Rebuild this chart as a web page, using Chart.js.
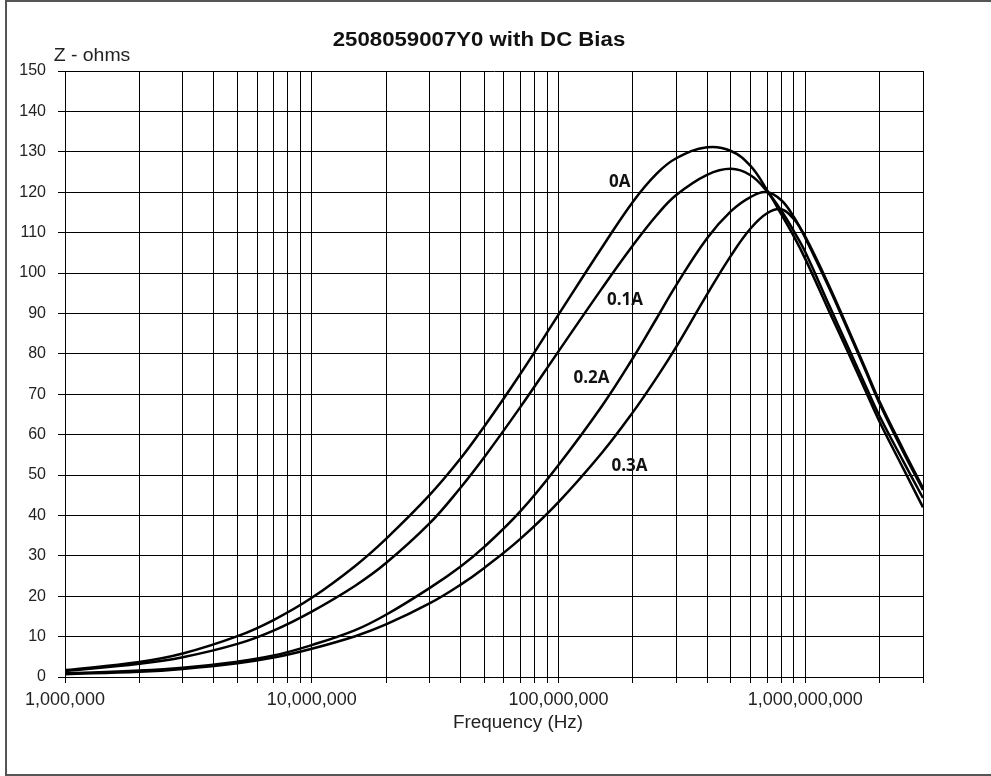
<!DOCTYPE html>
<html>
<head>
<meta charset="utf-8">
<script src="https://cdn.jsdelivr.net/npm/chart.js@4.4.0/dist/chart.umd.min.js"></script>
<style>
html, body { margin: 0; padding: 0; background: #fff; }
#frame { position: absolute; left: 5px; top: 0; width: 1100px; height: 776px; border: 2px solid #555; box-sizing: border-box; }
#c { position: absolute; left: 0; top: 0; }
</style>
</head>
<body>
<div id="frame"></div>
<canvas id="c" width="991" height="776"></canvas>
<script>
// frequency points (Hz) and impedance (ohms)
const freq = [1e6, 2e6, 3e6, 5e6, 7e6, 1e7, 1.5e7, 2e7, 3e7, 4e7, 5e7, 7e7, 1e8, 1.5e8, 2e8, 2.5e8, 3e8, 4e8, 5e8, 6e8, 7e8, 8e8, 9e8, 1e9, 1.25e9, 1.5e9, 1.75e9, 2e9, 2.5e9, 3e9];

const z0A  = [1.7, 3.7, 5.8, 10.1, 14.1, 19.6, 27.5, 34.2, 45, 54, 62, 75, 89.7, 106.3, 117.6, 124.6, 128.4, 131.1, 130.2, 126.5, 120.5, 114.5, 109, 103.5, 90.5, 80, 71, 63.2, 51.5, 42];
const z01A = [1.5, 3.3, 4.9, 8.2, 11.5, 16.2, 22.6, 28.2, 38, 46.8, 54.4, 66.8, 80.6, 96.2, 106.8, 114.3, 119.3, 124.3, 125.8, 124.2, 120.2, 115.4, 110.3, 105.2, 92, 81.3, 72.3, 64.6, 53.3, 44.3];
const z02A = [0.9, 1.6, 2.3, 3.8, 5.3, 7.9, 11.6, 15.4, 22, 27.3, 32.2, 41, 52.5, 67.1, 78.9, 88.8, 97, 108.6, 115.3, 118.8, 120, 118, 113.8, 108.7, 96.3, 85.4, 76, 67.7, 55.6, 46.3];
const z03A = [0.7, 1.3, 2.0, 3.4, 4.8, 7.0, 10.1, 13.0, 18.2, 22.8, 27, 34.2, 43.3, 55.5, 65.5, 74.1, 81.7, 94.7, 104.3, 111, 114.8, 115.8, 113.3, 109, 96.8, 85.8, 76.4, 68.2, 56.2, 46.8];

const seriesNames = ['0A', '0.1A', '0.2A', '0.3A'];
// where each curve name sits (frequency, ohms)
const labelFreq = [1.77e8, 1.86e8, 1.36e8, 1.94e8];
const labelZ    = [122.5, 93.3, 74, 52.1];

const xTickValues = [
  1e6, 2e6, 3e6, 4e6, 5e6, 6e6, 7e6, 8e6, 9e6,
  1e7, 2e7, 3e7, 4e7, 5e7, 6e7, 7e7, 8e7, 9e7,
  1e8, 2e8, 3e8, 4e8, 5e8, 6e8, 7e8, 8e8, 9e8,
  1e9, 2e9, 3e9
];
const xLabelValues = [1e6, 1e7, 1e8, 1e9];

const chartTitle = '2508059007Y0 with DC Bias';
const yTitle = 'Z - ohms';
const xTitle = 'Frequency (Hz)';

const allZ = [z0A, z01A, z02A, z03A];

function stretchedText(ctx, text, x, y, font, sx) {
  ctx.save();
  ctx.translate(x, y);
  ctx.scale(sx, 1);
  ctx.font = font;
  ctx.fillText(text, 0, 0);
  ctx.restore();
}

const textPlugin = {
  id: 'texts',
  afterDraw(chart) {
    const ctx = chart.ctx;
    const xs = chart.scales.x, ys = chart.scales.y;
    ctx.save();
    ctx.textAlign = 'center';
    ctx.textBaseline = 'middle';

    ctx.fillStyle = '#111';
    stretchedText(ctx, chartTitle, 479, 40, 'bold 20px "Liberation Sans", Arial, sans-serif', 1.11);
    ctx.fillStyle = '#222';
    stretchedText(ctx, yTitle, 92, 56, '18px "Liberation Sans", Arial, sans-serif', 1.08);
    stretchedText(ctx, xTitle, 518, 723, '18px "Liberation Sans", Arial, sans-serif', 1.05);

    ctx.fillStyle = '#111';
    ctx.font = 'bold 17px "Open Sans", sans-serif';
    seriesNames.forEach((name, i) => {
      ctx.fillText(name, xs.getPixelForValue(labelFreq[i]), ys.getPixelForValue(labelZ[i]));
    });
    ctx.restore();
  }
};

new Chart(document.getElementById('c'), {
  type: 'line',
  data: {
    datasets: allZ.map((z, i) => ({
      label: seriesNames[i],
      data: freq.map((f, j) => ({ x: f, y: z[j] })),
      borderColor: '#000',
      borderWidth: 2.5,
      pointRadius: 0,
      fill: false,
      tension: 0.4
    }))
  },
  options: {
    responsive: false,
    animation: false,
    layout: { padding: { top: 71, right: 68, left: 0, bottom: 0 } },
    plugins: { legend: { display: false }, title: { display: false }, tooltip: { enabled: false } },
    scales: {
      x: {
        type: 'logarithmic',
        min: 1e6,
        max: 3e9,
        afterBuildTicks(scale) { scale.ticks = xTickValues.map(v => ({ value: v })); },
        afterFit(scale) { scale.height = 99; },
        grid: { color: '#000', lineWidth: 1, drawTicks: true, tickLength: 6, tickColor: '#000' },
        border: { color: '#000', width: 1 },
        ticks: {
          autoSkip: false,
          maxRotation: 0,
          padding: 6,
          color: '#222',
          font: { family: '"Liberation Sans", Arial, sans-serif', size: 18 },
          callback: v => xLabelValues.includes(v) ? v.toLocaleString('en-US') : ''
        }
      },
      y: {
        min: 0,
        max: 150,
        afterFit(scale) { scale.width = 65; },
        grid: { color: '#000', lineWidth: 1, drawTicks: true, tickLength: 7, tickColor: '#000' },
        border: { color: '#000', width: 1 },
        ticks: {
          stepSize: 10,
          padding: 12,
          color: '#222',
          font: { family: '"Liberation Sans", Arial, sans-serif', size: 16 }
        }
      }
    }
  },
  plugins: [textPlugin]
});
</script>
</body>
</html>
